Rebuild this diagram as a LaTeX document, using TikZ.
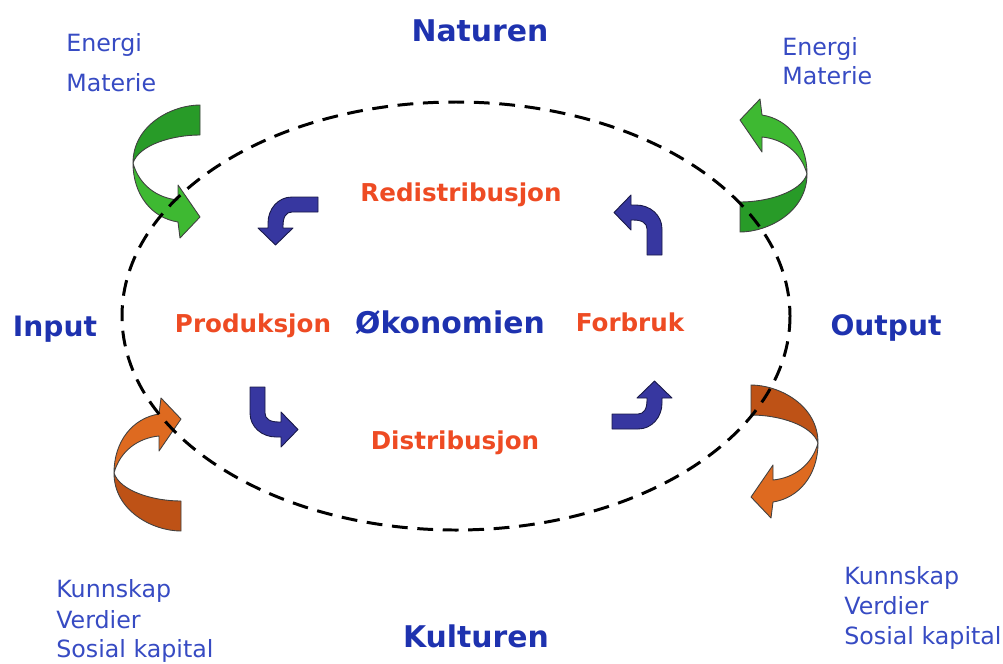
\documentclass[tikz,border=0pt]{standalone}
\usepackage{fontspec}
\setmainfont{DejaVu Sans}

\definecolor{natblue}{RGB}{30,50,175}
\definecolor{txtblue}{RGB}{55,75,195}
\definecolor{txtred}{RGB}{238,75,35}
\definecolor{grdark}{RGB}{40,155,40}
\definecolor{grlight}{RGB}{62,185,50}
\definecolor{ordark}{RGB}{190,82,22}
\definecolor{orlight}{RGB}{222,106,32}
\definecolor{arrblue}{RGB}{55,55,160}

% twisted ribbon arrow: placement, tail colour, head colour
\newcommand{\bandarrow}[3]{%
  \begin{scope}[#1]
    \filldraw[fill=#2,draw=black!75,line width=0.5pt,line join=round]
      (33,-65) .. controls (5,-65) and (-34,-45) .. (-34,-7)
      .. controls (-28,-25) and (5,-35) .. (33,-35) -- cycle;
    \filldraw[fill=#3,draw=black!75,line width=0.5pt,line join=round]
      (-34,-7) .. controls (-34,25) and (-15,48) .. (11,52) -- (13,68) -- (33,47)
      -- (11,15) -- (11,30) .. controls (-10,28) and (-28,15) .. (-34,-7) -- cycle;
  \end{scope}}

% small bent arrow
\newcommand{\bentarrow}[1]{%
  \filldraw[fill=arrblue,draw=arrblue!45!black,line width=0.5pt,line join=round,#1]
    (30,-24) -- (4,-24) .. controls (-10,-24) and (-20,-12) .. (-20,2) -- (-20,7)
    -- (-30,7) -- (-12.5,24) -- (5,7) -- (-5,7) -- (-5,5)
    .. controls (-5,-4) and (-2,-9) .. (4,-9) -- (30,-9) -- cycle;}

\begin{document}
\begin{tikzpicture}[x=0.02cm,y=-0.02cm,
    big/.style={font=\fontsize{17}{20}\selectfont\bfseries,text=natblue,inner sep=0pt,anchor=base},
    side/.style={font=\fontsize{16}{19}\selectfont\bfseries,text=natblue,inner sep=0pt,anchor=base},
    red/.style={font=\fontsize{14}{17}\selectfont\bfseries,text=txtred,inner sep=0pt,anchor=base},
    small/.style={font=\fontsize{13.5}{16}\selectfont,text=txtblue,inner sep=0pt,anchor=base west}]
  \useasboundingbox (0,0) rectangle (1003,663);

  % ribbon arrows
  \bandarrow{shift={(167,170)}}{grdark}{grlight}
  \bandarrow{shift={(773,167)},rotate=180}{grdark}{grlight}
  \bandarrow{shift={(148,466)},yscale=-1}{ordark}{orlight}
  \bandarrow{shift={(784,450)},xscale=-1}{ordark}{orlight}

  % circuit arrows
  \bentarrow{shift={(288,221)}}
  \bentarrow{shift={(638,225)},rotate=-90}
  \bentarrow{shift={(274,417)},rotate=90}
  \bentarrow{shift={(642,405)},rotate=180}

  \draw[line width=1.7pt,dash pattern=on 9pt off 5.5pt] (456,316) circle[x radius=334,y radius=214];

  \node[big] (naturen) at (480,41) {Naturen};
  \node[big] (kulturen) at (476,647) {Kulturen};
  \node[big] (okonomi) at (450,333) {Økonomien};
  \node[side] (input) at (55,336) {Input};
  \node[side] (output) at (886,335) {Output};

  \node[red] (prod) at (253,332) {Produksjon};
  \node[red] (forbruk) at (630,331) {Forbruk};
  \node[red] (redist) at (461,201) {Redistribusjon};
  \node[red] (dist) at (455,449) {Distribusjon};

  \node[small] (energiL) at (66,51) {Energi};
  \node[small] (materieL) at (66,91) {Materie};
  \node[small] (energiR) at (782,55) {Energi};
  \node[small] (materieR) at (782,84) {Materie};

  \node[small] (kunnL) at (56,597) {Kunnskap};
  \node[small] (verdL) at (56,628) {Verdier};
  \node[small] (sosL) at (56,657) {Sosial kapital};
  \node[small] (kunnR) at (844,584) {Kunnskap};
  \node[small] (verdR) at (844,614) {Verdier};
  \node[small] (sosR) at (844,644) {Sosial kapital};
\end{tikzpicture}
\end{document}
